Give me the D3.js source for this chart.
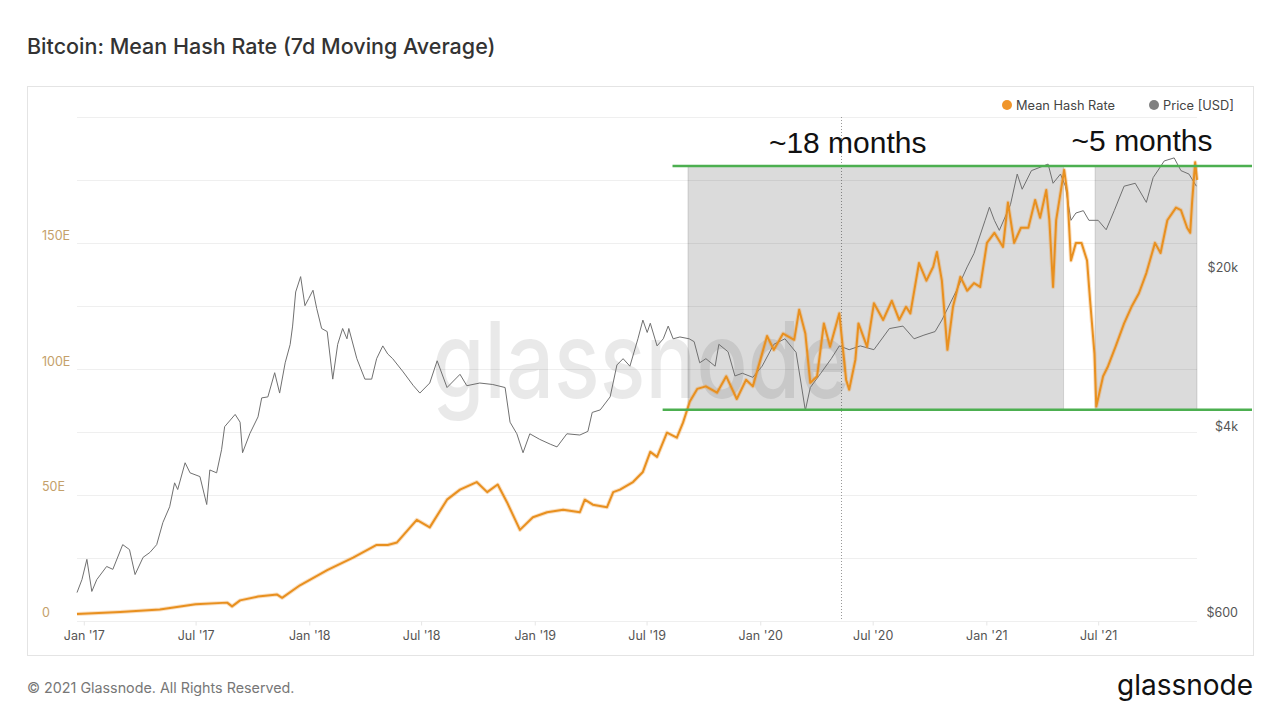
<!DOCTYPE html>
<html><head><meta charset="utf-8">
<script src="https://cdn.jsdelivr.net/npm/d3@7"></script>
<style>
body{margin:0;background:#fff;}
svg{display:block;font-family:Inter,"Open Sans",sans-serif;}
</style>
</head><body>
<svg id="c" width="1280" height="720"></svg>
<script>
// ---------- data ----------
const hashDates = ["2016-12-21","2017-03-01","2017-05-04","2017-07-01","2017-08-21","2017-08-29","2017-09-11","2017-10-10","2017-11-10","2017-11-18","2017-12-17","2018-01-30","2018-03-13","2018-04-20","2018-05-08","2018-05-23","2018-06-24","2018-07-15","2018-08-12","2018-09-02","2018-09-29","2018-10-16","2018-11-02","2018-11-17","2018-12-08","2018-12-29","2019-01-21","2019-02-16","2019-03-15","2019-03-23","2019-04-05","2019-04-28","2019-05-08","2019-05-19","2019-06-09","2019-06-25","2019-07-07","2019-07-18","2019-08-03","2019-08-19","2019-08-29","2019-09-09","2019-09-21","2019-10-05","2019-10-23","2019-11-07","2019-11-24","2019-12-09","2019-12-20","2020-01-04","2020-01-12","2020-01-23","2020-02-07","2020-02-25","2020-03-04","2020-03-14","2020-03-22","2020-04-02","2020-04-13","2020-04-23","2020-05-08","2020-05-19","2020-05-24","2020-06-03","2020-06-08","2020-06-22","2020-07-03","2020-07-18","2020-08-01","2020-08-13","2020-08-24","2020-08-31","2020-09-14","2020-09-26","2020-10-07","2020-10-13","2020-10-21","2020-10-30","2020-11-08","2020-11-20","2020-12-01","2020-12-12","2020-12-22","2021-01-02","2021-01-14","2021-01-28","2021-02-05","2021-02-15","2021-02-26","2021-03-10","2021-03-21","2021-03-29","2021-04-08","2021-04-13","2021-04-19","2021-04-24","2021-05-07","2021-05-12","2021-05-18","2021-05-26","2021-06-04","2021-06-13","2021-06-18","2021-06-25","2021-06-28","2021-07-09","2021-07-17","2021-07-29","2021-08-12","2021-08-24","2021-09-05","2021-09-17","2021-10-01","2021-10-10","2021-10-21","2021-11-04","2021-11-12","2021-11-22","2021-11-27","2021-11-30","2021-12-05","2021-12-08"];
const hashValues = [2.6,3.4,4.4,6.5,7.1,5.6,8,9.5,10.3,9,14,20,25,30,30,31,40,37,48,52,55,51,54,47,36,41,43,44,43,48,46,45,51,52,55,59,67,65,74.6,72.6,78.6,87,92,93,90.5,97,88,95.6,93,106,113,107.5,114,111.5,123.4,114,94.4,97,118,108.7,122,95.6,91.7,103.6,118,108.7,126,119.4,127,119.4,124.6,122,142,135,140.5,146.4,135,107.5,124.6,136.5,131,134,132.5,150,154,148.4,166,150,156,156,167,160,171,159,132.5,159,179,170,143,150,150,143,127,106,85,97,101,108.7,118,124.6,130,138,150,146,159,164,163,156,154,166,182,175];

const priceDates = ["2016-12-21","2016-12-29","2017-01-06","2017-01-14","2017-01-22","2017-02-07","2017-02-17","2017-03-05","2017-03-16","2017-03-25","2017-04-07","2017-04-18","2017-04-29","2017-05-09","2017-05-20","2017-05-28","2017-06-02","2017-06-14","2017-06-22","2017-07-08","2017-07-19","2017-07-24","2017-08-04","2017-08-12","2017-08-17","2017-09-03","2017-09-11","2017-09-15","2017-09-27","2017-10-10","2017-10-16","2017-10-26","2017-11-06","2017-11-14","2017-11-23","2017-12-01","2017-12-05","2017-12-10","2017-12-18","2017-12-25","2017-12-31","2018-01-07","2018-01-13","2018-01-21","2018-01-30","2018-02-08","2018-02-16","2018-02-24","2018-03-03","2018-03-06","2018-03-19","2018-04-01","2018-04-12","2018-04-20","2018-04-30","2018-05-08","2018-05-16","2018-06-02","2018-06-18","2018-06-29","2018-07-15","2018-07-27","2018-08-12","2018-09-02","2018-09-13","2018-10-04","2018-10-25","2018-11-14","2018-11-22","2018-12-03","2018-12-13","2018-12-24","2019-01-09","2019-01-26","2019-02-06","2019-02-22","2019-03-15","2019-03-28","2019-04-04","2019-04-17","2019-05-03","2019-05-14","2019-05-24","2019-06-04","2019-06-17","2019-06-25","2019-07-02","2019-07-07","2019-07-18","2019-07-28","2019-08-05","2019-08-13","2019-08-24","2019-09-08","2019-09-16","2019-09-25","2019-10-05","2019-10-20","2019-10-26","2019-11-10","2019-11-21","2019-12-03","2019-12-20","2020-01-04","2020-01-23","2020-02-10","2020-02-28","2020-03-07","2020-03-14","2020-03-22","2020-04-08","2020-04-25","2020-05-08","2020-05-24","2020-06-11","2020-07-03","2020-07-28","2020-08-19","2020-09-06","2020-09-22","2020-10-10","2020-10-21","2020-11-13","2020-12-01","2020-12-12","2020-12-30","2021-01-06","2021-01-14","2021-01-22","2021-02-09","2021-02-20","2021-02-28","2021-03-15","2021-03-29","2021-04-11","2021-04-19","2021-05-01","2021-05-09","2021-05-18","2021-05-26","2021-06-07","2021-06-16","2021-07-01","2021-07-14","2021-07-27","2021-08-12","2021-08-30","2021-09-17","2021-09-28","2021-10-16","2021-11-01","2021-11-12","2021-11-25","2021-12-07"];
const priceValues = [797,909,1117,806,909,1039,1009,1297,1233,957,1140,1198,1297,1623,1906,2430,2270,2980,2690,2590,1950,2770,2690,3400,4300,4870,4500,3300,4020,4750,5760,5820,7440,6050,8230,9900,11950,16900,19750,14700,15800,17200,14300,11660,11300,6970,9930,11660,10500,11660,8580,6970,6970,8580,9770,9000,8580,7500,6550,6050,6700,8400,6400,7320,6520,6700,6600,6400,4500,4000,3300,4000,3780,3600,3500,4000,3950,4100,4970,5100,5820,8050,8580,7950,10500,12700,11200,12300,9770,10500,11950,10500,10700,10500,10200,8230,8580,7950,9930,9200,7200,7400,7100,7950,9930,10500,9150,6700,5070,6400,7400,8580,9770,9400,9770,9400,11650,11950,10500,10900,11300,12700,17000,21800,25000,35000,40000,35000,31600,41000,56000,48000,58000,60000,62000,51000,56000,49500,35000,37700,38600,35000,35000,31800,38600,49500,51000,42000,54000,64000,66000,58000,56000,49500];

const leftTickValues = [0,50,100,150];
const leftTickLabels = ["0","50E","100E","150E"];
const priceTickValues = [600,4000,20000];
const priceTickLabels = ["$600","$4k","$20k"];
const xTickDates = ["2017-01-01","2017-07-01","2018-01-01","2018-07-01","2019-01-01","2019-07-01","2020-01-01","2020-07-01","2021-01-01","2021-07-01"];
const xTickLabels = ["Jan '17","Jul '17","Jan '18","Jul '18","Jan '19","Jul '19","Jan '20","Jul '20","Jan '21","Jul '21"];

// annotation overlay (hash-rate band and periods)
const bandLow = 83.7, bandHigh = 180.5;
const bandLowStart = "2019-07-27", bandHighStart = "2019-08-12";
const periodStarts = ["2019-09-06","2021-06-26"];
const periodEnds = ["2021-05-06","2021-12-08"];
const periodLabels = ["~18 months","~5 months"];
const periodLabelDates = ["2020-01-15","2021-05-19"];
const periodLabelValues = [185.7,186.6];
const halvingDate = "2020-05-11";

// ---------- layout ----------
const panel = {x0:27, y0:86, x1:1253, y1:655};
const plot = {left:77, right:1197, top:117, bottom:620.5};
const FONT = 'Inter,"Open Sans",sans-serif';

const parse = d3.utcParse("%Y-%m-%d");
const svg = d3.select("#c");

const x = d3.scaleUtc().domain([parse("2016-12-21"), parse("2021-12-08")]).range([plot.left, plot.right]);
const y = d3.scaleLinear().domain([0,200]).range([plot.bottom, plot.top]);
const yP = d3.scaleLog().domain([600,100000]).range([plot.bottom, plot.top]);

// title
svg.append("text").attr("x",27).attr("y",53.5).attr("font-size",21.5).attr("font-weight",500)
  .attr("fill","#333").text("Bitcoin: Mean Hash Rate (7d Moving Average)");

// panel
svg.append("rect").attr("x",panel.x0+0.5).attr("y",panel.y0+0.5)
  .attr("width",panel.x1-panel.x0).attr("height",panel.y1-panel.y0)
  .attr("fill","#fff").attr("stroke","#e4e4e4");

// gridlines
const grid = svg.append("g");
d3.range(0,201,25).forEach(v=>{
  grid.append("line").attr("x1",plot.left).attr("x2",plot.right)
    .attr("y1",Math.round(y(v))+0.5).attr("y2",Math.round(y(v))+0.5)
    .attr("stroke","#efefef").attr("stroke-width",1);
});

// x axis
const xAxis = d3.axisBottom(x).tickValues(xTickDates.map(parse))
  .tickFormat((d,i)=>xTickLabels[i]).tickSize(4).tickPadding(6);
const gx = svg.append("g").attr("transform",`translate(0,${Math.round(plot.bottom)+0.5})`).call(xAxis);
gx.select(".domain").remove();
gx.selectAll(".tick line").attr("stroke","#e6e6e6");
gx.selectAll("text").attr("font-size",12.5).attr("fill","#555").attr("font-family",FONT);

// left axis
const yAxis = d3.axisLeft(y).tickValues(leftTickValues).tickFormat((d,i)=>leftTickLabels[i]).tickSize(0);
const gy = svg.append("g").attr("transform",`translate(${42},0)`).call(yAxis);
gy.select(".domain").remove();
gy.selectAll("text").attr("text-anchor","start").attr("x",0).attr("dy","-0.3em")
  .attr("font-size",12.5).attr("fill","#c4a06a").attr("font-family",FONT);

// right axis
const pAxis = d3.axisRight(yP).tickValues(priceTickValues).tickFormat((d,i)=>priceTickLabels[i]).tickSize(0);
const gp = svg.append("g").attr("transform",`translate(${1238},0)`).call(pAxis);
gp.select(".domain").remove();
gp.selectAll("text").attr("text-anchor","end").attr("x",0).attr("dy","-0.3em")
  .attr("font-size",12.5).attr("fill","#555").attr("font-family",FONT);

// watermark
svg.append("text").attr("x",432).attr("y",398).attr("font-size",106).attr("font-weight",500)
  .attr("textLength",418).attr("lengthAdjust","spacingAndGlyphs")
  .attr("fill","rgba(0,0,0,0.085)").text("glassnode");

// halving marker
const hx = Math.round(x(parse(halvingDate)))+0.5;
svg.append("line").attr("x1",hx).attr("x2",hx)
  .attr("y1",plot.top).attr("y2",plot.bottom).attr("stroke","#999").attr("stroke-dasharray","1,2");

// period boxes
periodStarts.forEach((s,i)=>{
  const x0 = x(parse(s)), x1 = x(parse(periodEnds[i]));
  svg.append("rect").attr("x",x0).attr("y",y(bandHigh)).attr("width",x1-x0).attr("height",y(bandLow)-y(bandHigh))
    .attr("fill","rgba(0,0,0,0.14)").attr("stroke","rgba(0,0,0,0.13)").attr("stroke-width",1);
});

// lines
const hashData = hashDates.map((d,i)=>({date:parse(d), v:hashValues[i]}));
const priceData = priceDates.map((d,i)=>({date:parse(d), v:priceValues[i]}));

svg.append("path").datum(priceData).attr("fill","none").attr("stroke","#707070").attr("stroke-width",1)
  .attr("d", d3.line().x(d=>x(d.date)).y(d=>yP(d.v)));
svg.append("path").datum(hashData).attr("fill","none").attr("stroke","rgba(240,150,50,0.3)").attr("stroke-width",4)
  .attr("stroke-linejoin","round").attr("d", d3.line().x(d=>x(d.date)).y(d=>y(d.v)));
svg.append("path").datum(hashData).attr("fill","none").attr("stroke","#e8901f").attr("stroke-width",2)
  .attr("stroke-linejoin","round").attr("d", d3.line().x(d=>x(d.date)).y(d=>y(d.v)));

// green band lines
svg.append("line").attr("x1",x(parse(bandHighStart))).attr("x2",panel.x1-1)
  .attr("y1",y(bandHigh)).attr("y2",y(bandHigh)).attr("stroke","#4caf50").attr("stroke-width",2.5);
svg.append("line").attr("x1",x(parse(bandLowStart))).attr("x2",panel.x1-1)
  .attr("y1",y(bandLow)).attr("y2",y(bandLow)).attr("stroke","#4caf50").attr("stroke-width",2.5);

// period labels
periodLabels.forEach((t,i)=>{
  svg.append("text").attr("x",x(parse(periodLabelDates[i]))).attr("y",y(periodLabelValues[i]))
    .attr("font-family",'"Liberation Sans",Arial,sans-serif').attr("font-size",30).attr("fill","#111").text(t);
});

// legend
const legend = svg.append("g").attr("font-size",12.8);
legend.append("circle").attr("cx",1007).attr("cy",105).attr("r",5).attr("fill","#f0952a");
legend.append("text").attr("x",1016).attr("y",109.5).attr("fill","#444").text("Mean Hash Rate");
legend.append("circle").attr("cx",1154).attr("cy",105).attr("r",5).attr("fill","#808080");
legend.append("text").attr("x",1163).attr("y",109.5).attr("fill","#444").text("Price [USD]");

// footer
svg.append("text").attr("x",27).attr("y",693).attr("font-size",14.3).attr("fill","#777")
  .text("© 2021 Glassnode. All Rights Reserved.");
svg.append("text").attr("x",1117).attr("y",695).attr("font-size",28).attr("font-weight",400)
  .attr("textLength",136).attr("lengthAdjust","spacingAndGlyphs").attr("fill","#111").text("glassnode");
</script>
</body></html>
